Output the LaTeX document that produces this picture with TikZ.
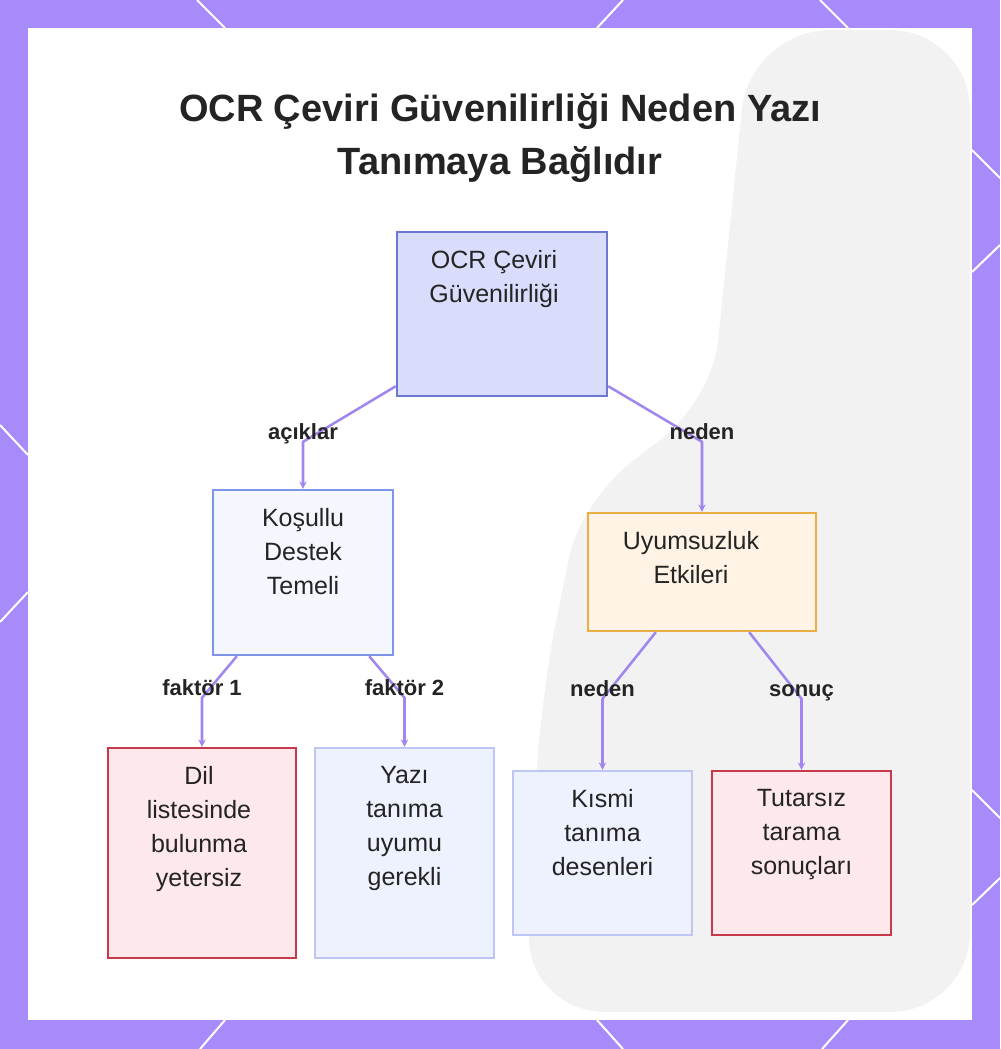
\documentclass[tikz,border=0pt]{standalone}
\usepackage{fontspec}
\setmainfont{Liberation Sans}
\usetikzlibrary{calc,arrows.meta}

\definecolor{framepurple}{HTML}{A78BFA}
\definecolor{linkpurple}{HTML}{A086EE}
\definecolor{ink}{HTML}{242424}
\definecolor{bggray}{HTML}{F2F2F2}
\definecolor{rootfill}{HTML}{D9DCFB}
\definecolor{rootdraw}{HTML}{6C79D3}
\definecolor{kosfill}{HTML}{F5F7FF}
\definecolor{kosdraw}{HTML}{7F95E8}
\definecolor{uyumfill}{HTML}{FEF3E4}
\definecolor{uyumdraw}{HTML}{EBAE45}
\definecolor{redfill}{HTML}{FDE8EC}
\definecolor{reddraw}{HTML}{C73A4C}
\definecolor{bluefill}{HTML}{EEF1FE}
\definecolor{bluedraw}{HTML}{BDC6F5}

\begin{document}
\begin{tikzpicture}[x=0.75pt,y=-0.75pt,>={Stealth[length=5.5pt,width=5.5pt]},
    box/.style={rectangle, draw, line width=1.8pt, inner sep=0},
    txt/.style={anchor=north, inner sep=0, align=center, text=ink, font=\fontsize{18.75}{25.5}\selectfont},
    lbl/.style={inner sep=0, text=ink, text height=12pt, text depth=3.5pt, font=\bfseries\fontsize{16.5}{18}\selectfont, yshift=6pt},
    link/.style={->, draw=linkpurple, line width=1.9pt, line join=round},
    deco/.style={draw=white, line width=1.5pt}]

    \useasboundingbox (0,0) rectangle (1000,1049);
    \fill[framepurple] (0,0) rectangle (1000,1049);
    \draw[deco] (197,0) -- (225,28) (623,0) -- (597,28) (820,0) -- (848,28);
    \draw[deco] (200,1049) -- (225,1020) (623,1049) -- (597,1020) (822,1049) -- (848,1020);
    \draw[deco] (0,425) -- (28,455) (0,622) -- (28,592);
    \draw[deco] (972,150) -- (1000,178) (972,272) -- (1000,245);
    \draw[deco] (972,790) -- (1000,818) (972,905) -- (1000,878);
    \fill[white] (28,28) rectangle (972,1020);
    \fill[bggray, rounded corners=60] (750,30) -- (970,30) -- (970,1012) -- (525,1012)
        -- (540,700) -- (585,480) -- (710,420) -- cycle;

    \node[font=\bfseries\fontsize{28.5}{39.75}\selectfont, text=ink, align=center, anchor=north, inner sep=0] (title) at (500,93)
        {OCR Çeviri Güvenilirliği Neden Yazı\\Tanımaya Bağlıdır};

    \node[box, fill=rootfill, draw=rootdraw, minimum width=157.5pt, minimum height=123pt] (root) at (502,314) {};
    \node[box, fill=kosfill, draw=kosdraw, minimum width=135pt, minimum height=123.75pt] (kos) at (303,572.5) {};
    \node[box, fill=uyumfill, draw=uyumdraw, minimum width=171pt, minimum height=88.5pt] (uyum) at (702,572) {};
    \node[box, fill=redfill, draw=reddraw, minimum width=141pt, minimum height=157.5pt] (dil) at (202,853) {};
    \node[box, fill=bluefill, draw=bluedraw, minimum width=134.25pt, minimum height=157.5pt] (yazi) at (404.5,853) {};
    \node[box, fill=bluefill, draw=bluedraw, minimum width=134.25pt, minimum height=123pt] (kismi) at (602.5,853) {};
    \node[box, fill=redfill, draw=reddraw, minimum width=134.25pt, minimum height=123pt] (tutar) at (801.5,853) {};

    \node[txt] (rootT) at ($(root.north)+(-8,19)$) {OCR Çeviri\\Güvenilirliği};
    \node[txt] (kosT) at ($(kos.north)+(0,19)$) {Koşullu\\Destek\\Temeli};
    \node[txt] (uyumT) at ($(uyum.north)+(-11,19)$) {Uyumsuzluk\\Etkileri};
    \node[txt] (dilT) at ($(dil.north)+(-3,19)$) {Dil\\listesinde\\bulunma\\yetersiz};
    \node[txt] (yaziT) at ($(yazi.north)+(0,19)$) {Yazı\\tanıma\\uyumu\\gerekli};
    \node[txt] (kismiT) at ($(kismi.north)+(0,19)$) {Kısmi\\tanıma\\desenleri};
    \node[txt] (tutarT) at ($(tutar.north)+(0,19)$) {Tutarsız\\tarama\\sonuçları};

    \draw[link] ($(root.south west)+(0,-11)$) -- ($(kos.north)+(0,-47)$) node[lbl] {açıklar} -- (kos);
    \draw[link] ($(root.south east)+(0,-11)$) -- ($(uyum.north)+(0,-70)$) node[lbl] {neden} -- (uyum);
    \draw[link] ($(kos.south west)+(25,0)$) -- ($(dil.north)+(0,-49)$) node[lbl] {faktör 1} -- (dil);
    \draw[link] ($(kos.south east)+(-25,0)$) -- ($(yazi.north)+(0,-49)$) node[lbl] {faktör 2} -- (yazi);
    \draw[link] ($(uyum.south west)+(69,0)$) -- ($(kismi.north)+(0,-71)$) node[lbl] {neden} -- (kismi);
    \draw[link] ($(uyum.south east)+(-68,0)$) -- ($(tutar.north)+(0,-71)$) node[lbl] {sonuç} -- (tutar);
\end{tikzpicture}
\end{document}
